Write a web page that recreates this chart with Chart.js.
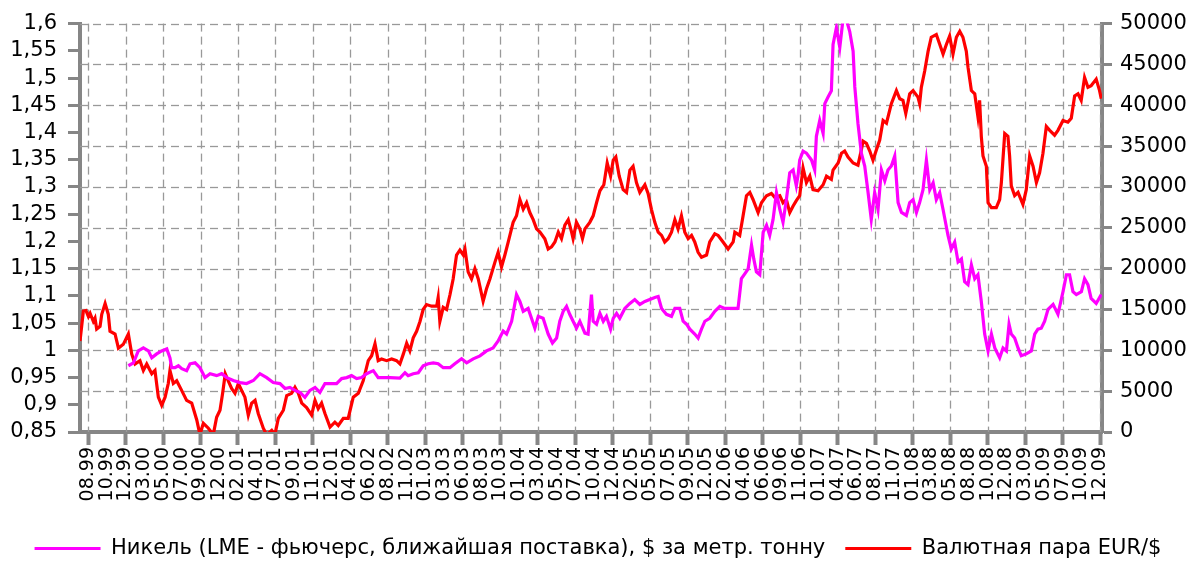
<!DOCTYPE html>
<html lang="ru">
<head>
<meta charset="utf-8">
<title>Никель и EUR/$</title>
<script src="https://cdn.jsdelivr.net/npm/chart.js@4.4.1/dist/chart.umd.min.js"></script>
<style>
  html, body { margin: 0; padding: 0; background: #fff; }
  #wrap { width: 1196px; height: 562px; position: relative; }
</style>
</head>
<body>
<div id="wrap"><canvas id="chart"></canvas></div>
<script>
// Подписи оси X (месяц.год), по одной на шаг
const dateLabels = [
  '08.99', '10.99', '12.99', '03.00', '05.00', '07.00', '09.00', '12.00', '02.01', '04.01',
  '07.01', '09.01', '11.01', '12.01', '04.02', '06.02', '08.02', '11.02', '01.03', '03.03',
  '06.03', '08.03', '10.03', '01.04', '03.04', '05.04', '07.04', '10.04', '12.04', '02.05',
  '05.05', '07.05', '09.05', '12.05', '02.06', '04.06', '06.06', '09.06', '11.06', '01.07',
  '04.07', '06.07', '08.07', '11.07', '01.08', '03.08', '05.08', '08.08', '10.08', '12.08',
  '03.09', '05.09', '07.09', '10.09', '12.09'
];

// Деления левой (курс) и правой (цена никеля) осей
const rateTicks = [0.85, 0.9, 0.95, 1, 1.05, 1.1, 1.15, 1.2, 1.25, 1.3, 1.35, 1.4, 1.45, 1.5, 1.55, 1.6];
const nickelTicks = [0, 5000, 10000, 15000, 20000, 25000, 30000, 35000, 40000, 45000, 50000];

// EUR/$: положение по оси X (в шагах подписей) и курс
const eurX = [
  -0.43, -0.25, -0.11, 0.02, 0.11, 0.28, 0.37, 0.46, 0.64, 0.73,
  0.91, 1.08, 1.17, 1.44, 1.62, 1.88, 2.15, 2.33, 2.51, 2.77,
  2.95, 3.13, 3.40, 3.57, 3.75, 3.93, 4.11, 4.28, 4.37, 4.55,
  4.73, 5.00, 5.26, 5.53, 5.80, 5.97, 6.15, 6.42, 6.68, 6.86,
  7.04, 7.18, 7.32, 7.48, 7.66, 7.84, 8.02, 8.20, 8.37, 8.55,
  8.73, 8.91, 9.08, 9.35, 9.53, 9.80, 9.97, 10.15, 10.42, 10.60,
  10.86, 11.04, 11.22, 11.40, 11.66, 11.93, 12.11, 12.28, 12.46, 12.64,
  12.91, 13.17, 13.35, 13.62, 13.88, 14.15, 14.42, 14.68, 14.95, 15.13,
  15.31, 15.48, 15.66, 15.93, 16.20, 16.46,
  16.64, 16.82, 17.00, 17.17, 17.35, 17.53, 17.71, 17.88, 18.06, 18.33,
  18.60, 18.68, 18.77, 18.95, 19.13, 19.31, 19.48, 19.66, 19.84, 20.02,
  20.11, 20.28, 20.46, 20.64, 20.82, 21.08, 21.26, 21.44, 21.71, 21.88,
  22.06, 22.24, 22.42, 22.68, 22.86, 23.04, 23.22, 23.40, 23.57, 23.75,
  23.93, 24.11, 24.37, 24.55, 24.73, 24.91, 25.09, 25.26, 25.44, 25.62,
  25.80, 25.88, 26.06, 26.24, 26.38, 26.51, 26.77, 26.95, 27.13, 27.31,
  27.52, 27.70, 27.88, 28.02, 28.16, 28.34, 28.55, 28.73, 28.91, 29.08,
  29.26, 29.44, 29.71, 29.88, 30.06, 30.24, 30.42, 30.60, 30.77, 30.95,
  31.13, 31.31, 31.48, 31.66, 31.84, 32.02, 32.20, 32.37, 32.55, 32.73,
  33.00, 33.17, 33.44, 33.62, 33.88, 34.15, 34.42, 34.51, 34.77, 34.95,
  35.13, 35.31, 35.48, 35.75, 35.93, 36.20, 36.46, 36.64, 36.91, 37.08,
  37.26, 37.44, 37.62, 37.79,
  37.97, 38.15, 38.33, 38.51, 38.68, 38.95, 39.22, 39.40, 39.66, 39.75,
  40.02, 40.20, 40.37, 40.55, 40.82, 41.08, 41.26, 41.35, 41.53, 41.71,
  41.88, 42.06, 42.24, 42.42, 42.60, 42.86, 43.13, 43.31, 43.48, 43.63,
  43.84, 44.02, 44.28, 44.37, 44.46, 44.64, 44.82, 44.99, 45.26, 45.44,
  45.62, 45.80, 45.97, 46.15, 46.33, 46.51, 46.68, 46.86, 46.95, 47.13,
  47.31, 47.48, 47.57, 47.66, 47.75, 47.93, 48.02, 48.20, 48.46, 48.64,
  48.73, 48.91, 49.08, 49.17, 49.26, 49.44, 49.62, 49.88, 50.06, 50.24,
  50.42, 50.60, 50.77, 50.95, 51.13, 51.31, 51.57, 51.75, 52.02, 52.28,
  52.46, 52.64, 52.82, 52.99, 53.17, 53.35, 53.52, 53.79, 53.97, 54.06
];
const eurRate = [
  1.017, 1.072, 1.073, 1.062, 1.068, 1.053, 1.059, 1.039, 1.044, 1.066,
  1.086, 1.066, 1.035, 1.030, 1.004, 1.011, 1.030, 0.993, 0.975, 0.981,
  0.963, 0.975, 0.957, 0.963, 0.914, 0.899, 0.914, 0.939, 0.963, 0.939,
  0.944, 0.926, 0.908, 0.903, 0.872, 0.845, 0.866, 0.857, 0.845, 0.877,
  0.890, 0.921, 0.957, 0.944, 0.930, 0.921, 0.939, 0.926, 0.914, 0.881,
  0.903, 0.908, 0.884, 0.857, 0.845, 0.853, 0.845, 0.875, 0.890, 0.917,
  0.921, 0.932, 0.921, 0.903, 0.895, 0.881, 0.908, 0.893, 0.903, 0.884,
  0.859, 0.868, 0.862, 0.875, 0.875, 0.914, 0.921, 0.944, 0.981, 0.990,
  1.012, 0.981, 0.984, 0.981, 0.984, 0.981,
  0.975, 0.993, 1.013, 0.999, 1.023, 1.035, 1.053, 1.075, 1.084, 1.081,
  1.081, 1.097, 1.053, 1.079, 1.075, 1.102, 1.131, 1.175, 1.184, 1.175,
  1.186, 1.144, 1.131, 1.150, 1.131, 1.090, 1.113, 1.131, 1.162, 1.180,
  1.153, 1.175, 1.199, 1.235, 1.247, 1.277, 1.259, 1.271, 1.253, 1.240,
  1.223, 1.217, 1.205, 1.186, 1.190, 1.199, 1.217, 1.205, 1.230, 1.240,
  1.217, 1.205, 1.235, 1.223, 1.205, 1.223, 1.235, 1.247, 1.271, 1.293,
  1.304, 1.344, 1.320, 1.349, 1.355, 1.320, 1.295, 1.290, 1.331, 1.338,
  1.308, 1.290, 1.304, 1.288, 1.259, 1.235, 1.217, 1.211, 1.199, 1.205,
  1.217, 1.240, 1.223, 1.247, 1.217, 1.205, 1.211, 1.199, 1.180, 1.171,
  1.175, 1.199, 1.214, 1.211, 1.199, 1.186, 1.199, 1.217, 1.211, 1.247,
  1.284, 1.290, 1.277, 1.253, 1.271, 1.284, 1.288, 1.281, 1.284, 1.271,
  1.277, 1.253, 1.265, 1.275,
  1.284, 1.335, 1.308, 1.320, 1.295, 1.293, 1.304, 1.320, 1.314, 1.331,
  1.344, 1.362, 1.366, 1.355, 1.344, 1.340, 1.368, 1.384, 1.380, 1.366,
  1.349, 1.368, 1.386, 1.422, 1.417, 1.453, 1.477, 1.462, 1.459, 1.435,
  1.471, 1.477, 1.465, 1.453, 1.483, 1.513, 1.549, 1.575, 1.580, 1.562,
  1.544, 1.562, 1.577, 1.544, 1.575, 1.586, 1.575, 1.549, 1.520, 1.477,
  1.471, 1.429, 1.459, 1.393, 1.357, 1.338, 1.271, 1.262, 1.262, 1.277,
  1.308, 1.398, 1.393, 1.357, 1.302, 1.284, 1.290, 1.268, 1.295, 1.357,
  1.338, 1.308, 1.326, 1.362, 1.411, 1.404, 1.395, 1.404, 1.422, 1.419,
  1.426, 1.467, 1.471, 1.459, 1.501, 1.483, 1.486, 1.498, 1.477, 1.462
];

// Никель: положение по оси X и цена, $ за метрическую тонну
const nickelX = [
  2.15, 2.42, 2.68, 2.95, 3.22, 3.40, 3.66, 3.93, 4.20, 4.37,
  4.46, 4.64, 4.82, 5.00, 5.26, 5.44, 5.71, 5.97, 6.24, 6.51,
  6.86, 7.13, 7.40, 7.75, 8.11, 8.46, 8.82, 9.17, 9.53, 9.88,
  10.24, 10.51, 10.77, 11.04, 11.31, 11.57, 11.84, 12.11, 12.37, 12.64,
  12.91, 13.26, 13.53, 13.80, 14.06, 14.33, 14.60, 14.86, 15.22, 15.48,
  15.75, 16.11,
  16.64, 16.91, 17.08, 17.35, 17.62, 17.88, 18.15, 18.42, 18.68, 18.95,
  19.31, 19.57, 19.93, 20.20, 20.55, 20.91, 21.26, 21.61, 21.88, 22.15,
  22.33, 22.60, 22.86, 23.04, 23.22, 23.48, 23.66, 23.84, 24.02, 24.28,
  24.55, 24.78, 25.00, 25.17, 25.35, 25.53, 25.70, 25.88, 26.06, 26.24,
  26.51, 26.68, 26.86, 26.95, 27.13, 27.31, 27.49, 27.66, 27.88, 28.02,
  28.20, 28.37, 28.64, 28.91, 29.17, 29.44, 29.71, 29.97, 30.24, 30.42,
  30.60, 30.86, 31.13, 31.31, 31.57, 31.75, 31.93, 32.11, 32.37, 32.55,
  32.73, 32.91, 33.17, 33.44, 33.71, 33.97, 34.33, 34.68, 34.86, 35.04,
  35.22, 35.40, 35.52, 35.66, 35.84, 36.02, 36.20, 36.37, 36.55, 36.73,
  36.91, 37.08, 37.26, 37.44, 37.62, 37.79, 37.88,
  37.97, 38.15, 38.33, 38.60, 38.77, 38.86, 39.04, 39.22, 39.31, 39.49,
  39.66, 39.75, 39.93, 40.11, 40.28, 40.46, 40.64, 40.82, 40.91, 41.08,
  41.26, 41.44, 41.62, 41.79, 41.97, 42.15, 42.33, 42.51, 42.68, 42.86,
  43.04, 43.22, 43.40, 43.66, 43.84, 44.02, 44.20, 44.37, 44.55, 44.73,
  44.91, 45.09, 45.26, 45.44, 45.62, 45.88, 46.06, 46.24, 46.42, 46.60,
  46.77, 46.95, 47.13, 47.31, 47.48, 47.66, 47.84, 48.02, 48.20, 48.38,
  48.64, 48.82, 49.00, 49.14, 49.26, 49.44, 49.62, 49.79, 50.06, 50.33,
  50.51, 50.68, 50.86, 51.04, 51.22, 51.49, 51.75, 52.02, 52.20, 52.37,
  52.55, 52.73, 53.00, 53.17, 53.35, 53.52, 53.79, 54.06
];
const nickelPrice = [
  8110, 8470, 9930, 10290, 9930, 9080, 9560, 9930, 10170, 9080,
  7870, 7870, 8110, 7750, 7510, 8350, 8470, 7870, 6660, 7140,
  6900, 7140, 6660, 6300, 6050, 5930, 6300, 7140, 6660, 6050,
  5930, 5330, 5450, 5090, 4840, 4240, 5090, 5450, 4840, 5930,
  5930, 5930, 6540, 6660, 6900, 6540, 6660, 7140, 7510, 6660,
  6660, 6660,
  6600, 7260, 6900, 7140, 7260, 8110, 8350, 8470, 8350, 7870,
  7870, 8350, 8960, 8470, 8960, 9320, 9930, 10290, 11140, 12350,
  11990, 13560, 16830, 15980, 14770, 15130, 13920, 12710, 14160, 13920,
  11990, 10900, 11500, 13560, 14770, 15380, 14410, 13560, 12710, 13560,
  12110, 11990, 16830, 13560, 13200, 14530, 13560, 14160, 12590, 13920,
  14530, 13920, 15130, 15740, 16220, 15620, 15980, 16220, 16470, 16590,
  15130, 14410, 14160, 15130, 15130, 13560, 13200, 12590, 11990, 11500,
  12590, 13560, 13920, 14770, 15380, 15130, 15130, 15130, 18770, 19370,
  19980, 22880, 21190, 19610, 19250, 24460, 25300, 24090, 26030, 29300,
  27240, 25670, 28450, 31720, 32080, 30150, 31360,
  33300, 34380, 34140, 33290, 32080, 36200, 38140, 36560, 40200, 41040,
  41770, 47460, 49520, 47090, 50500, 50500, 49030, 46610, 42250, 37770,
  34140, 32570, 29300, 26030, 29300, 27240, 32080, 30750, 32080, 32570,
  33780, 28090, 26880, 26510, 28090, 28450, 26880, 28090, 29660, 33290,
  29660, 30510, 28450, 29300, 27240, 24090, 22400, 23250, 20820, 21190,
  18400, 18040, 20460, 18770, 19250, 15980, 11990, 9930, 11990, 10290,
  9080, 10290, 9930, 13200, 11990, 11500, 10290, 9330, 9560, 9930,
  11990, 12590, 12710, 13560, 15010, 15620, 14410, 17190, 19250, 19250,
  17190, 16830, 17190, 18770, 18040, 16350, 15740, 16830
];

if (eurX.length !== eurRate.length) throw new Error('EUR: ' + eurX.length + ' / ' + eurRate.length);
if (nickelX.length !== nickelPrice.length) throw new Error('Nickel: ' + nickelX.length + ' / ' + nickelPrice.length);

const toPoints = (xs, ys) => xs.map((x, i) => ({ x: x, y: ys[i] }));

const axisGray = '#868686';
const gridGray = '#999999';
const tickFont = { family: 'DejaVu Sans', size: 21 };

// Пунктирная сетка: каждый штрих — отдельный отрезок по делениям шкал x и y1
const DASH = 8;
const GAP = 5;
const dashedGrid = {
  id: 'dashedGrid',
  beforeDatasetsDraw(chart) {
    const { ctx, chartArea: area, scales } = chart;
    const stroke = (x1, y1, x2, y2) => {
      ctx.beginPath();
      ctx.moveTo(x1, y1);
      ctx.lineTo(x2, y2);
      ctx.stroke();
    };
    ctx.save();
    ctx.strokeStyle = gridGray;
    ctx.lineWidth = 1.3;
    ctx.setLineDash([]);
    scales.y1.ticks.forEach(t => {
      if (t.value === 0) return;
      const y = Math.round(scales.y1.getPixelForValue(t.value)) + 0.5;
      for (let x = area.left; x < area.right; x += DASH + GAP) {
        stroke(x, y, Math.min(x + DASH, area.right), y);
      }
    });
    scales.x.ticks.forEach(t => {
      if (t.value % 2 !== 0) return;
      const x = Math.round(scales.x.getPixelForValue(t.value)) + 0.5;
      for (let y = area.top; y < area.bottom; y += DASH + GAP) {
        stroke(x, y, x, Math.min(y + DASH, area.bottom));
      }
    });
    ctx.restore();
  }
};

new Chart(document.getElementById('chart'), {
  type: 'line',
  data: {
    datasets: [
      {
        label: 'Никель (LME - фьючерс, ближайшая поставка), $ за метр. тонну',
        data: toPoints(nickelX, nickelPrice),
        yAxisID: 'y1',
        borderColor: '#ff00ff',
        backgroundColor: '#ff00ff',
        borderWidth: 3.2,
        pointRadius: 0,
        tension: 0
      },
      {
        label: 'Валютная пара EUR/$',
        data: toPoints(eurX, eurRate),
        yAxisID: 'y',
        borderColor: '#ff0000',
        backgroundColor: '#ff0000',
        borderWidth: 3.2,
        pointRadius: 0,
        tension: 0
      }
    ]
  },
  plugins: [dashedGrid],
  options: {
    responsive: true,
    maintainAspectRatio: false,
    animation: false,
    events: [],
    // легенда прижата к нижнему краю, поэтому отступ снизу отрицательный
    layout: { padding: { top: 19, left: 0, right: 0, bottom: -7 } },
    scales: {
      x: {
        type: 'linear',
        min: -0.43,
        max: 54.1,
        afterBuildTicks: scale => { scale.ticks = dateLabels.map((_, i) => ({ value: i })); },
        afterFit: scale => { scale.height = 86; },
        ticks: {
          autoSkip: false,
          minRotation: 90,
          maxRotation: 90,
          padding: 2,
          color: '#000',
          font: { family: 'DejaVu Sans', size: 19 },
          callback: (value, index) => dateLabels[index]
        },
        grid: {
          // засечки — через одну подпись
          drawOnChartArea: false,
          tickColor: ctx => (ctx.tick && ctx.tick.value % 2 === 0) ? axisGray : 'rgba(0,0,0,0)',
          tickLength: 13,
          tickWidth: 4
        },
        border: { color: axisGray, width: 4 }
      },
      y: {
        position: 'left',
        min: 0.85,
        max: 1.6,
        afterBuildTicks: scale => { scale.ticks = rateTicks.map(v => ({ value: v })); },
        afterFit: scale => { scale.width = 80; },
        ticks: {
          autoSkip: false,
          padding: 11,
          color: '#000',
          font: tickFont,
          callback: v => String(Math.round(v * 100) / 100).replace('.', ',')
        },
        grid: { drawOnChartArea: false, tickLength: 12, tickWidth: 3, tickColor: axisGray },
        border: { color: axisGray, width: 4 }
      },
      y1: {
        position: 'right',
        min: 0,
        max: 50000,
        afterBuildTicks: scale => { scale.ticks = nickelTicks.map(v => ({ value: v })); },
        afterFit: scale => { scale.width = 94; },
        ticks: {
          autoSkip: false,
          padding: 8,
          color: '#000',
          font: tickFont,
          callback: v => String(v)
        },
        grid: { drawOnChartArea: false, tickLength: 10, tickWidth: 3, tickColor: axisGray },
        border: { color: axisGray, width: 4 }
      }
    },
    plugins: {
      tooltip: { enabled: false },
      legend: {
        position: 'bottom',
        labels: {
          usePointStyle: true,
          pointStyle: 'line',
          pointStyleWidth: 66,
          padding: 20,
          color: '#000',
          font: { family: 'DejaVu Sans', size: 21 }
        }
      }
    }
  }
});
</script>
</body>
</html>
